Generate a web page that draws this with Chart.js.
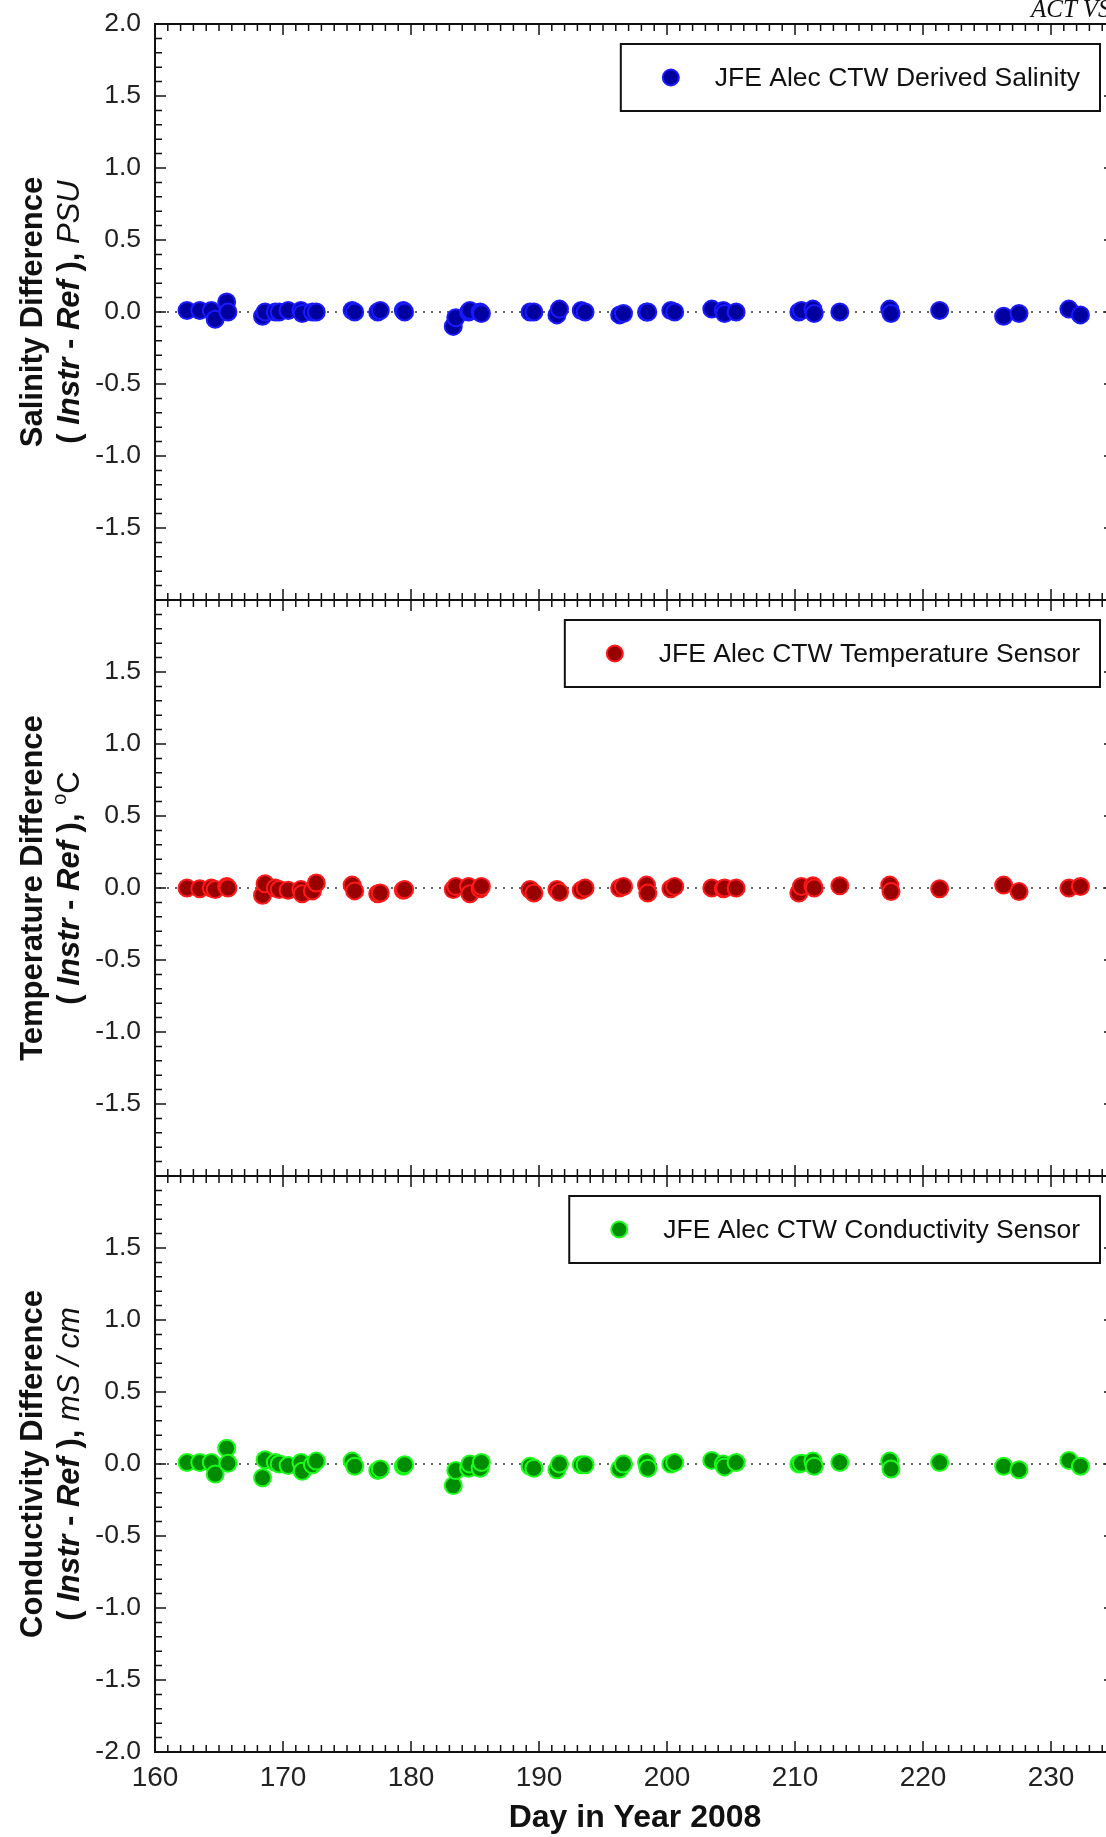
<!DOCTYPE html>
<html>
<head>
<meta charset="utf-8">
<title>JFE Alec CTW differences</title>
<script src="https://cdn.jsdelivr.net/npm/chart.js@4.4.1/dist/chart.umd.min.js"></script>
<style>
  html, body { margin: 0; padding: 0; background: #fff; }
  #wrap { position: relative; width: 1106px; height: 1837px; overflow: hidden; background: #fff; }
  .panel { position: absolute; left: 0; width: 1130px; }
  #stamp { position: absolute; left: 1031px; top: -5px; font: italic 25px "Liberation Serif", serif; color: #111; white-space: nowrap; }
</style>
</head>
<body>
<div id="wrap">
  <div class="panel" style="top:0;height:600px"><canvas id="salChart"></canvas></div>
  <div class="panel" style="top:600px;height:576px"><canvas id="tempChart"></canvas></div>
  <div class="panel" style="top:1176px;height:661px"><canvas id="condChart"></canvas></div>
  <div id="stamp">ACT VS</div>
</div>
<script>
// --- data ---
const sampleDays = [
  162.5, 163.5, 164.4, 164.7, 165.6, 165.7, 168.4, 168.6, 169.4, 169.7,
  170.4, 171.4, 171.5, 172.3, 172.6, 175.4, 175.6, 177.4, 177.6, 179.4,
  179.5, 183.3, 183.5, 184.5, 184.6, 185.4, 185.5, 189.3, 189.6, 191.4,
  191.6, 193.3, 193.6, 196.3, 196.6, 198.4, 198.5, 200.3, 200.6, 203.5,
  204.4, 204.5, 205.4, 210.3, 210.5, 211.4, 211.5, 213.5, 217.4, 217.5,
  221.3, 226.3, 227.5, 231.4, 232.3
];
const salinityDiff = [
  0.01, 0.01, 0.01, -0.05, 0.07, 0.0, -0.03, 0.0, 0.0, 0.0,
  0.01, 0.01, -0.01, 0.0, 0.0, 0.01, 0.0, 0.0, 0.01, 0.01,
  0.0, -0.10, -0.04, 0.0, 0.01, 0.0, -0.01, 0.0, 0.0, -0.02,
  0.02, 0.01, 0.0, -0.02, -0.01, 0.0, 0.0, 0.01, 0.0, 0.02,
  0.01, -0.01, 0.0, 0.0, 0.01, 0.02, -0.01, 0.0, 0.02, -0.01,
  0.01, -0.03, -0.01, 0.02, -0.02
];
const temperatureDiff = [
  0.0, -0.005, 0.0, -0.01, 0.01, 0.0, -0.05, 0.03, 0.0, -0.01,
  -0.015, -0.01, -0.04, -0.02, 0.035, 0.02, -0.02, -0.04, -0.035, -0.015,
  -0.01, -0.01, 0.01, 0.01, -0.04, -0.005, 0.01, -0.01, -0.035, -0.01,
  -0.03, -0.015, 0.0, 0.0, 0.01, 0.02, -0.035, -0.005, 0.01, 0.0,
  -0.005, 0.0, 0.0, -0.035, 0.01, 0.015, 0.0, 0.015, 0.02, -0.025,
  -0.005, 0.02, -0.025, 0.0, 0.01
];
const conductivityDiff = [
  0.01, 0.01, 0.01, -0.07, 0.11, 0.005, -0.095, 0.03, 0.01, 0.0,
  -0.01, 0.01, -0.05, -0.005, 0.02, 0.02, -0.015, -0.045, -0.035, -0.015,
  -0.005, -0.15, -0.045, -0.03, 0.0, -0.03, 0.01, -0.015, -0.03, -0.04,
  0.0, -0.005, -0.005, -0.035, 0.0, 0.01, -0.03, 0.0, 0.01, 0.025,
  0.0, -0.02, 0.01, 0.0, 0.005, 0.02, -0.015, 0.01, 0.02, -0.035,
  0.01, -0.015, -0.04, 0.025, -0.015
];

const xTickValues = [160, 170, 180, 190, 200, 210, 220, 230];
const yTicksSalinity = [2.0, 1.5, 1.0, 0.5, 0.0, -0.5, -1.0, -1.5];
const yTicksTemperature = [1.5, 1.0, 0.5, 0.0, -0.5, -1.0, -1.5];
const yTicksConductivity = [1.5, 1.0, 0.5, 0.0, -0.5, -1.0, -1.5, -2.0];

const X_MIN = 160, X_MAX = 235;
const Y_MIN = -2, Y_MAX = 2;

const FONT = '"Liberation Sans", Arial, sans-serif';
Chart.defaults.font.family = FONT;
Chart.defaults.color = '#222';

// titles on the left: line 2 has mixed bold / italic runs
const B = 'bold 31px ' + FONT, BI = 'italic bold 31px ' + FONT, I = 'italic 31px ' + FONT, R = '31px ' + FONT;
const refParts = [
  { text: '( ', font: B }, { text: 'Instr', font: BI }, { text: ' - ', font: B },
  { text: 'Ref', font: BI }, { text: ' ), ', font: B }
];

// === рамка, засечки, нулевая линия ===
const framePlugin = {
  id: 'frame',
  beforeDatasetsDraw(chart) {
    const { ctx, chartArea: a, scales: { y } } = chart;
    const py = y.getPixelForValue(0);
    ctx.save();
    ctx.strokeStyle = '#666';
    ctx.lineWidth = 2;
    ctx.setLineDash([2, 6]);
    ctx.beginPath();
    ctx.moveTo(a.left + 4, py);
    ctx.lineTo(a.right, py);
    ctx.stroke();
    ctx.restore();
  },
  afterDatasetsDraw(chart) {
    const { ctx, chartArea: a, scales: { x, y } } = chart;
    ctx.save();
    ctx.strokeStyle = '#111';
    ctx.lineWidth = 1.5;
    ctx.beginPath();
    for (let d = X_MIN; d <= X_MAX; d++) {
      const px = x.getPixelForValue(d);
      const len = d % 10 === 0 ? 11 : 7;
      ctx.moveTo(px, a.top); ctx.lineTo(px, a.top + len);
      ctx.moveTo(px, a.bottom); ctx.lineTo(px, a.bottom - len);
    }
    for (let i = Y_MIN * 10; i <= Y_MAX * 10; i++) {
      const py = y.getPixelForValue(i / 10);
      const len = i % 5 === 0 ? 11 : 7;
      ctx.moveTo(a.left, py); ctx.lineTo(a.left + len, py);
      ctx.moveTo(a.right, py); ctx.lineTo(a.right - len, py);
    }
    ctx.stroke();
    ctx.lineWidth = 2;
    ctx.strokeRect(a.left, a.top, a.right - a.left, a.bottom - a.top);
    ctx.restore();
  },
  afterDraw(chart) {
    const { ctx, chartArea: a } = chart;
    const ds = chart.data.datasets[0];
    const opts = chart.options.plugins.frame;

    // legend box
    ctx.save();
    ctx.font = '26.5px ' + FONT;
    const w = ctx.measureText(ds.label).width;
    const right = 1100, top = a.top + 20, h = 67;
    const textX = right - 20 - w;
    const dotX = textX - 44;
    const left = dotX - 50;
    ctx.fillStyle = '#fff';
    ctx.fillRect(left, top, right - left, h);
    ctx.strokeStyle = '#111';
    ctx.lineWidth = 2;
    ctx.strokeRect(left, top, right - left, h);
    ctx.beginPath();
    ctx.arc(dotX, top + h / 2, 8, 0, Math.PI * 2);
    ctx.fillStyle = ds.pointBackgroundColor;
    ctx.fill();
    ctx.strokeStyle = ds.pointBorderColor;
    ctx.lineWidth = 2;
    ctx.stroke();
    ctx.fillStyle = '#111';
    ctx.textBaseline = 'middle';
    ctx.fillText(ds.label, textX, top + h / 2 + 1);
    ctx.restore();

    // rotated axis title, two lines
    const yc = (a.top + a.bottom) / 2;
    drawVertical(ctx, [{ text: opts.quantity, font: B }], 42, yc);
    drawVertical(ctx, refParts.concat(opts.unit), 79, yc);
  }
};

function drawVertical(ctx, parts, xBase, yCenter) {
  let total = 0;
  const widths = parts.map(p => { ctx.font = p.font; const w = ctx.measureText(p.text).width; total += w; return w; });
  ctx.save();
  ctx.translate(xBase, yCenter);
  ctx.rotate(-Math.PI / 2);
  ctx.fillStyle = '#111';
  ctx.textBaseline = 'alphabetic';
  let cx = -total / 2;
  parts.forEach((p, i) => {
    ctx.font = p.font;
    ctx.fillText(p.text, cx, p.rise ? -p.rise : 0);
    cx += widths[i];
  });
  ctx.restore();
}

function makeChart(canvasId, opts) {
  const isBottom = opts.showX;
  // @ts-ignore
  return new Chart(document.getElementById(canvasId), {
    type: 'scatter',
    data: {
      datasets: [{
        label: opts.label,
        data: sampleDays.map((d, i) => ({ x: d, y: opts.values[i] })),
        pointRadius: 8.5,
        pointHoverRadius: 8.5,
        pointBorderWidth: 2,
        pointBackgroundColor: opts.fill,
        pointBorderColor: opts.edge
      }]
    },
    options: {
      responsive: true,
      maintainAspectRatio: false,
      animation: false,
      devicePixelRatio: 1,
      layout: { autoPadding: false, padding: { top: opts.padTop, right: 15, left: 0, bottom: 0 } },
      plugins: {
        legend: { display: false },
        tooltip: { enabled: false },
        frame: { quantity: opts.quantity, unit: opts.unit }
      },
      scales: {
        x: {
          type: 'linear',
          min: X_MIN, max: X_MAX,
          display: isBottom,
          grid: { display: false, drawTicks: false },
          border: { display: false },
          afterBuildTicks: s => { s.ticks = xTickValues.map(v => ({ value: v })); },
          afterFit: s => { s.height = isBottom ? 85 : 0; s.paddingLeft = 0; s.paddingRight = 0; },
          ticks: { font: { size: 28 }, color: '#222', padding: 9, maxRotation: 0 },
          title: {
            display: true, text: 'Day in Year 2008', color: '#111',
            font: { size: 32, weight: 'bold' }, padding: { top: 0, bottom: 0 }
          }
        },
        y: {
          min: Y_MIN, max: Y_MAX,
          grid: { display: false, drawTicks: false },
          border: { display: false },
          afterBuildTicks: s => { s.ticks = opts.yTicks.map(v => ({ value: v })); },
          afterFit: s => { s.width = 155; s.paddingTop = 0; s.paddingBottom = 0; },
          ticks: { font: { size: 26.5 }, color: '#222', padding: 14, callback: v => v.toFixed(1) }
        }
      }
    },
    plugins: [framePlugin]
  });
}

makeChart('salChart', {
  label: 'JFE Alec CTW Derived Salinity',
  values: salinityDiff, yTicks: yTicksSalinity,
  fill: '#0000a0', edge: '#1a1aff', padTop: 24, showX: false,
  quantity: 'Salinity Difference', unit: [{ text: 'PSU', font: I }]
});
makeChart('tempChart', {
  label: 'JFE Alec CTW Temperature Sensor',
  values: temperatureDiff, yTicks: yTicksTemperature,
  fill: '#990000', edge: '#ff1a1a', padTop: 0, showX: false,
  quantity: 'Temperature Difference',
  unit: [{ text: 'o', font: '20px ' + FONT, rise: 13 }, { text: 'C', font: R }]
});
makeChart('condChart', {
  label: 'JFE Alec CTW Conductivity Sensor',
  values: conductivityDiff, yTicks: yTicksConductivity,
  fill: '#008c00', edge: '#1aff1a', padTop: 0, showX: true,
  quantity: 'Conductivity Difference', unit: [{ text: 'mS / cm', font: I }]
});
</script>
</body>
</html>
